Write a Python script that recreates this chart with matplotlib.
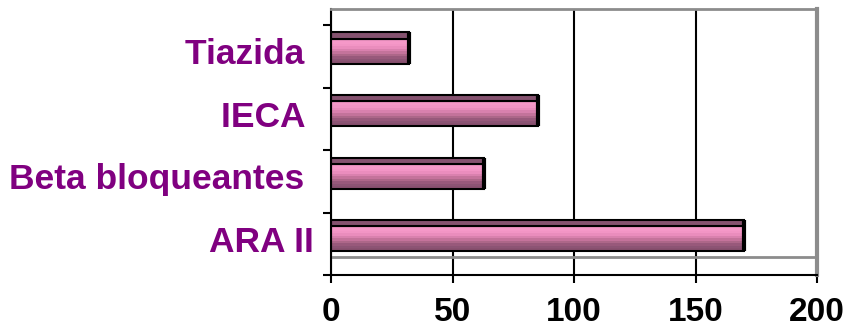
import numpy as np
import matplotlib
matplotlib.use("Agg")
import matplotlib.pyplot as plt
from matplotlib.colors import to_rgb

# data (bottom to top)
categories = ["ARA II", "Beta bloqueantes ", "IECA ", "Tiazida "]
values = [170, 63, 85, 32]
xticks = [0, 50, 100, 150, 200]

plt.rcParams['font.family'] = ['Liberation Sans', 'DejaVu Sans']

fig = plt.figure(figsize=(8.44, 3.34), dpi=100)
W, H = 844, 334
# axes = front plane of the pseudo 3d excel chart
ax = fig.add_axes([331 / W, (H - 275) / H, (817 - 331) / W, (275 - 9) / H])

px_per_cat = 62.5
depth = 18 / px_per_cat  # vertical shift of back wall

# gradient for front face of bars, top -> bottom
grad_cols = ['#f598c8', '#f598c8', '#f295c5', '#ea8dbd', '#d981ae',
             '#c4739b', '#ad6789', '#98597b', '#8c5474', '#88506f']
grad = np.array([to_rgb(c) for c in grad_cols]).reshape(-1, 1, 3)

bar_off = 0.08
bar_h = 0.40
top_h = 0.10

for i, v in enumerate(values):
    y0 = i + bar_off - bar_h / 2
    y1 = i + bar_off + bar_h / 2
    ax.imshow(grad, extent=(0, v, y0, y1), aspect='auto',
              interpolation='nearest', zorder=3)
    ax.barh(i + bar_off, v, height=bar_h, facecolor='none',
            edgecolor='black', linewidth=1.5, zorder=4)
    # top face
    ax.barh(y1 + top_h / 2, v, height=top_h, facecolor='#85526f',
            edgecolor='black', linewidth=1.5, zorder=4)
    ax.vlines(v, y0, y1 + top_h, color='black', linewidth=3, zorder=5)

    ax.text(-17 / 486 * 200, i - 0.13, categories[i], ha='right', va='baseline',
            fontsize=25.5, fontweight='bold', color='#800080')

# back wall floor line
ax.axhline(-0.5 + depth, color='#8c8c8c', linewidth=2, zorder=2)

ax.set_xlim(0, 200)
ax.set_ylim(-0.5, -0.5 + (275 - 9) / px_per_cat)

ax.set_xticks(xticks)
ax.set_xticklabels([str(t) for t in xticks], fontsize=24, fontweight='bold')
ax.set_yticks(np.arange(-0.5, 4, 1))
ax.set_yticklabels([])
ax.tick_params(axis='both', length=6, width=1.5, color='black', direction='out')
ax.tick_params(axis='x', pad=10)

ax.grid(axis='x', color='black', linewidth=1.5)
ax.set_axisbelow(True)

ax.spines['left'].set_color('black')
ax.spines['left'].set_linewidth(1.5)
ax.spines['bottom'].set_color('black')
ax.spines['bottom'].set_linewidth(1.5)
ax.spines['top'].set_color('#8c8c8c')
ax.spines['top'].set_linewidth(2)
ax.spines['right'].set_color('#8c8c8c')
ax.spines['right'].set_linewidth(3)
for s in ax.spines.values():
    s.set_zorder(6)

fig.savefig('out.png', dpi=100, facecolor='white')
